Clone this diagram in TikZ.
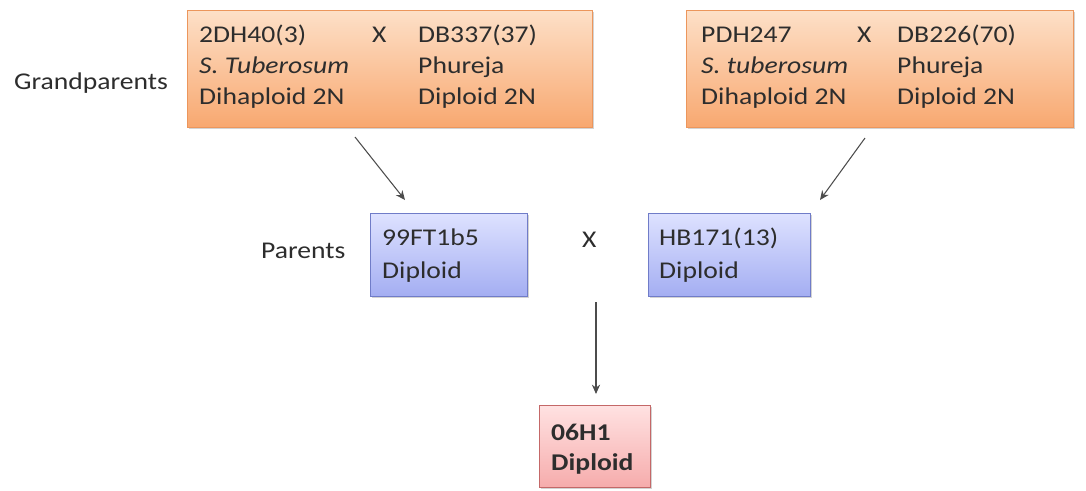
\documentclass[tikz,border=0pt]{standalone}
\usepackage{fontspec}
\setmainfont{Carlito}[FakeStretch=1.15]
\usetikzlibrary{arrows.meta,shadows}
\definecolor{orangetop}{RGB}{253,224,200}
\definecolor{orangebot}{RGB}{248,168,112}
\definecolor{orangeline}{RGB}{236,150,92}
\definecolor{bluetop}{RGB}{222,226,255}
\definecolor{bluebot}{RGB}{164,174,242}
\definecolor{blueline}{RGB}{112,124,200}
\definecolor{pinktop}{RGB}{255,226,226}
\definecolor{pinkbot}{RGB}{246,172,172}
\definecolor{pinkline}{RGB}{196,104,104}
\definecolor{txt}{RGB}{45,45,45}
\tikzset{
  box/.style={draw,line width=0.8pt,drop shadow={opacity=0.35,shadow xshift=2pt,shadow yshift=-2pt}},
  gpbox/.style={box,draw=orangeline,top color=orangetop,bottom color=orangebot},
  pbox/.style={box,draw=blueline,top color=bluetop,bottom color=bluebot},
  cbox/.style={box,draw=pinkline,top color=pinktop,bottom color=pinkbot},
  lbl/.style={anchor=west,inner sep=0pt,text height=15pt,text depth=4pt,text=txt,font=\fontsize{20.5}{25}\selectfont},
  arr/.style={-{Stealth[length=8pt,width=7pt]},line width=0.9pt,draw=txt!85}
}
\begin{document}
\begin{tikzpicture}[x=0.03cm,y=-0.03cm]
	\useasboundingbox(0,0)rectangle(1086,490);
	% boxes
	\path[gpbox](187,10)rectangle(592,127);
	\path[gpbox](686,10)rectangle(1073,127);
	\path[pbox](370,213)rectangle(527,296);
	\path[pbox](648,213)rectangle(810,296);
	\path[cbox](539,405)rectangle(650,487);
	% texts
	\path(14,83)node[lbl](gp){Grandparents}
		(261,252)node[lbl](pa){Parents}
		(199,36)node[lbl](a1){2DH40(3)}
		(372,36)node[lbl](ax){X}
		(418,36)node[lbl](a2){DB337(37)}
		(199,67)node[lbl](a3){\itshape S. Tuberosum}
		(418,67)node[lbl](a4){Phureja}
		(199,98)node[lbl](a5){Dihaploid 2N}
		(418,98)node[lbl](a6){Diploid 2N}
		(701,36)node[lbl](b1){PDH247}
		(857,36)node[lbl](bx){X}
		(897,36)node[lbl](b2){DB226(70)}
		(701,67)node[lbl](b3){\itshape S. tuberosum}
		(897,67)node[lbl](b4){Phureja}
		(701,98)node[lbl](b5){Dihaploid 2N}
		(897,98)node[lbl](b6){Diploid 2N}
		(382,239)node[lbl](p1){99FT1b5}
		(382,272)node[lbl](p2){Diploid}
		(582,241)node[lbl](px){X}
		(659,239)node[lbl](q1){HB171(13)}
		(659,272)node[lbl](q2){Diploid}
		(551,434)node[lbl,font=\fontsize{20.5}{25}\selectfont\bfseries](c1){06H1}
		(551,464)node[lbl,font=\fontsize{20.5}{25}\selectfont\bfseries](c2){Diploid};
	% arrows
	\coordinate(s1)at(355,137);\coordinate(e1)at(405,200);
	\coordinate(s2)at(865,138);\coordinate(e2)at(820,200);
	\coordinate(s3)at(596,302);\coordinate(e3)at(596,394);
	\draw[arr](s1)--(e1);
	\draw[arr](s2)--(e2);
	\draw[arr](s3)--(e3);
\end{tikzpicture}
\end{document}
